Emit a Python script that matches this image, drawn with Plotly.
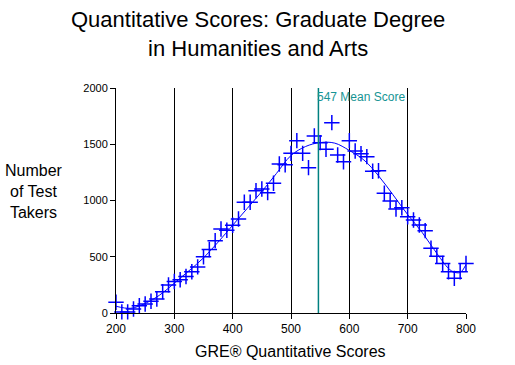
import plotly.graph_objects as go

scores = list(range(200, 801, 10))
takers = [95, 10, 10, 35, 65, 80, 105, 125, 190, 250,
          280, 295, 325, 367, 410, 500, 565, 643, 747, 735,
          780, 835, 984, 984, 1087, 1102, 1070, 1153, 1324, 1318,
          1419, 1532, 1419, 1292, 1573, 1514, 1455, 1692, 1404, 1345,
          1532, 1440, 1416, 1390, 1260, 1265, 1064, 996, 924, 936,
          856, 827, 782, 732, 575, 505, 441, 367, 308, 367,
          441]

fit_x = [200, 225, 250, 275, 300, 325, 350, 375, 400, 425, 450, 475, 500,
         525, 550, 575, 600, 625, 650, 675, 700, 725, 750, 775, 790, 800]
fit_y = [60, 42, 85, 160, 265, 375, 490, 630, 780, 930, 1080, 1240, 1400,
         1480, 1515, 1510, 1445, 1360, 1220, 1050, 875, 715, 530, 375, 360, 430]

mean_score = 547
mean_label = "547 Mean Score"

x_ticks = [200, 300, 400, 500, 600, 700, 800]
y_ticks = [0, 500, 1000, 1500, 2000]

FONT = "Liberation Sans, Arial, sans-serif"

L, R, T, B = 116, 466, 88, 313
PW, PH = R - L, B - T


def px(xp, yp):
    return (xp - L) / PW, (B - yp) / PH


fig = go.Figure()
fig.add_trace(go.Scatter(x=fit_x, y=fit_y, mode="lines",
                         line=dict(color="blue", width=1, shape="spline", smoothing=1.0),
                         hoverinfo="skip", showlegend=False))
fig.add_trace(go.Scatter(x=scores, y=takers, mode="markers", cliponaxis=False,
                         marker=dict(symbol="cross-thin-open", size=11, color="blue",
                                     line=dict(color="blue", width=1.5)),
                         showlegend=False))

fig.add_shape(type="line", x0=mean_score, x1=mean_score, y0=0, y1=1,
              xref="x", yref="paper", line=dict(color="#008080", width=1.5))
fig.add_annotation(x=mean_score, y=1, xref="x", yref="paper", text=mean_label,
                   showarrow=False, xanchor="left", yanchor="top", xshift=-3, yshift=0,
                   font=dict(family=FONT, size=12, color="#169494"))

fig.update_layout(
    width=515, height=365,
    margin=dict(l=L, r=515 - R, t=T, b=365 - B, autoexpand=False),
    paper_bgcolor="white", plot_bgcolor="white",
    font=dict(family=FONT, color="black"),
    xaxis=dict(range=[200, 800], tickvals=x_ticks, showgrid=True, gridcolor="black",
               gridwidth=1, showline=True, linecolor="black", linewidth=1,
               ticks="outside", ticklen=5, tickcolor="black", zeroline=False,
               automargin=False, tickfont=dict(family=FONT, size=12)),
    yaxis=dict(range=[0, 2000], tickvals=y_ticks, showgrid=False,
               showline=True, linecolor="black", linewidth=1,
               ticks="outside", ticklen=5, tickcolor="black", zeroline=False,
               automargin=False, tickfont=dict(family=FONT, size=11)),
)

tx, ty = px(258, 5)
fig.add_annotation(x=tx, y=ty, xref="paper", yref="paper",
                   text="Quantitative Scores: Graduate Degree<br>in Humanities and Arts",
                   showarrow=False, xanchor="center", yanchor="top",
                   font=dict(family=FONT, size=22))
ax, ay = px(290, 351)
fig.add_annotation(x=ax, y=ay, xref="paper", yref="paper", text="GRE® Quantitative Scores",
                   showarrow=False, xanchor="center", yanchor="middle",
                   font=dict(family=FONT, size=16))
yx, yy = px(34, 191)
fig.add_annotation(x=yx, y=yy, xref="paper", yref="paper", text="Number<br>of Test<br>Takers",
                   showarrow=False, xanchor="center", yanchor="middle",
                   font=dict(family=FONT, size=16))

fig.write_html("out.html")
